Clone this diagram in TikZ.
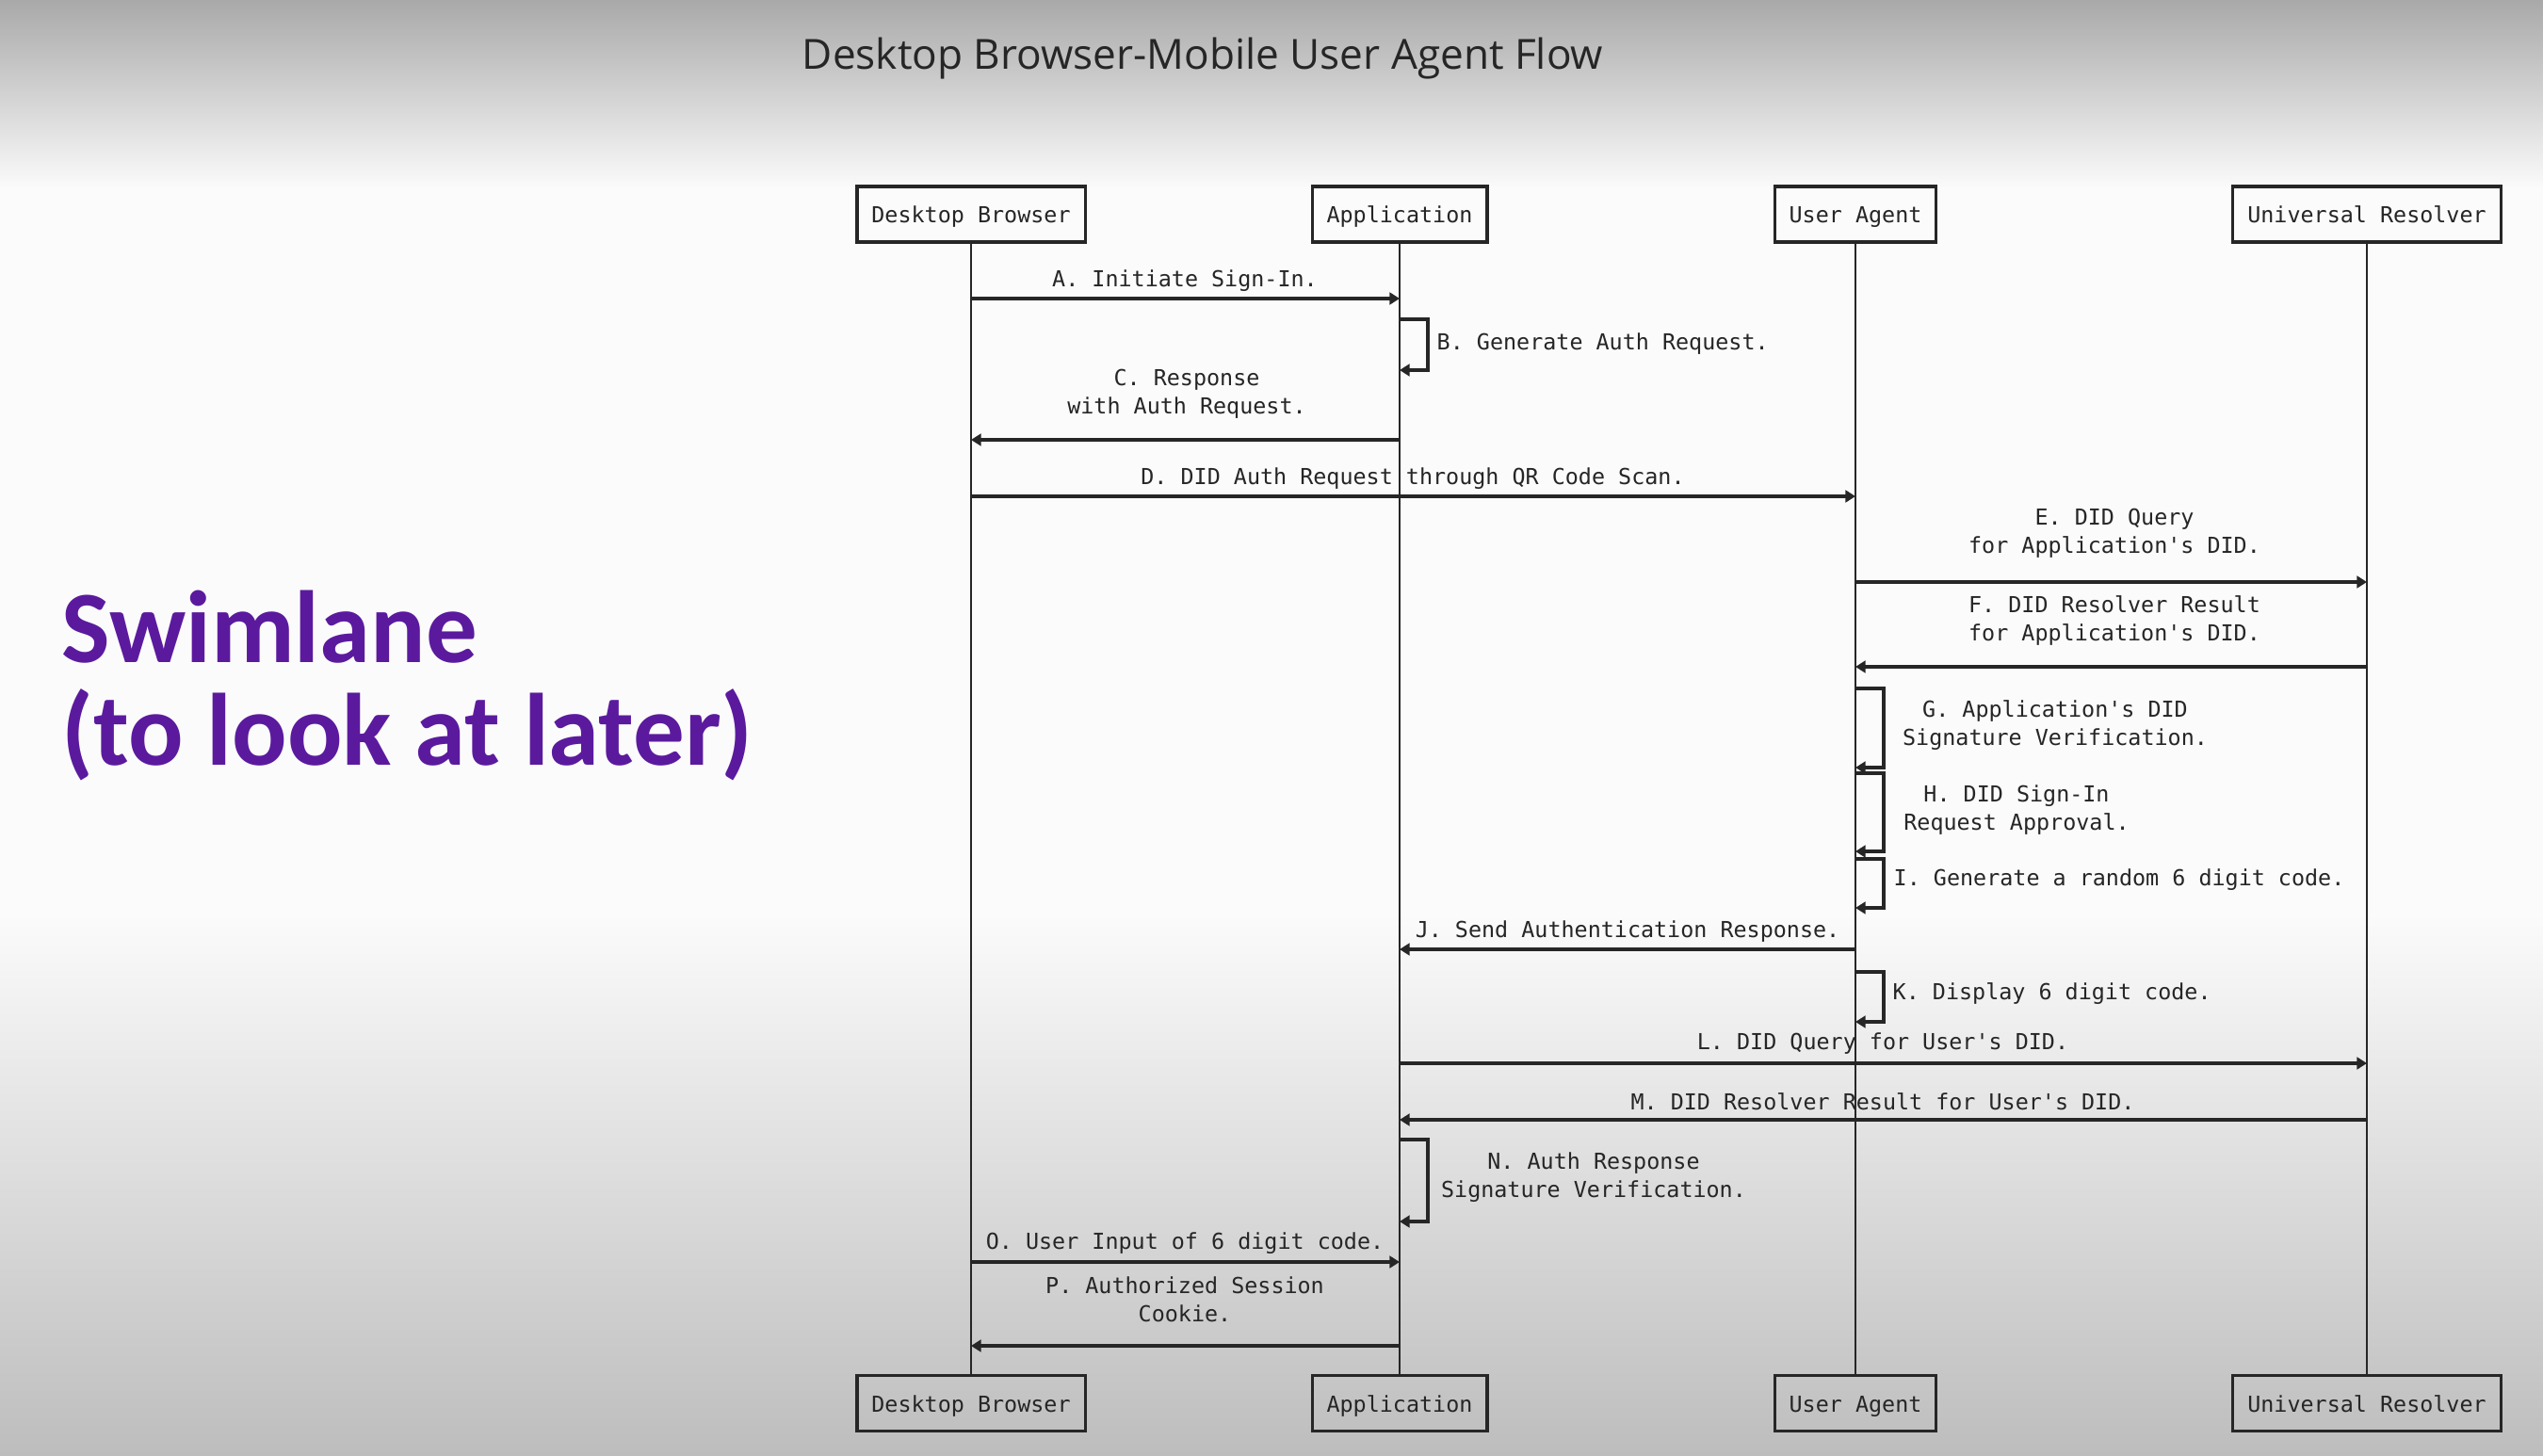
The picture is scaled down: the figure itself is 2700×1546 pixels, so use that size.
\documentclass[tikz,border=0pt]{standalone}
\usepackage{fontspec}
\setmonofont{DejaVu Sans Mono}
\newfontfamily\titlefont{Open Sans}
\newfontfamily\swimfont{Carlito}
\usetikzlibrary{arrows.meta}
\definecolor{swimpurple}{HTML}{5B1A9E}
\definecolor{ink}{HTML}{262626}
\definecolor{topgray}{HTML}{A9A9A9}
\definecolor{botgray}{HTML}{BDBDBD}
\definecolor{paper}{HTML}{FBFBFB}
\tikzset{
  lbl/.style={font=\ttfamily\fontsize{6.65}{8.5}\selectfont, text=ink, align=center, inner sep=0pt},
  actor/.style={draw=ink, line width=0.9pt, font=\ttfamily\fontsize{6.65}{8.5}\selectfont, text=ink,
                minimum height=16.8pt, inner xsep=4.4pt, inner ysep=0pt,
                text height=0.75em, text depth=0.22em},
  life/.style={draw=ink, line width=0.7pt},
  msg/.style={draw=ink, line width=1.1pt, -{Triangle[length=3pt,width=3.6pt]}},
}
\begin{document}
\begin{tikzpicture}[x=0.01cm,y=-0.01cm]
% background
\useasboundingbox (0,0) rectangle (2700,1546);
\fill[paper] (0,0) rectangle (2700,1546);
\shade[top color=topgray, bottom color=paper] (0,0) rectangle (2700,200);
\shade[top color=paper, bottom color=botgray] (0,970) rectangle (2700,1546);

% title and side note
\node[font=\titlefont\fontsize{12.55}{14}\selectfont, text=ink, inner sep=0pt] (title) at (1277,62) {Desktop Browser-Mobile User Agent Flow};
\node[font=\swimfont\bfseries\fontsize{31}{31}\selectfont, text=swimpurple, anchor=base west, inner sep=0pt] (sw1) at (65,703) {Swimlane};
\node[font=\swimfont\bfseries\fontsize{31}{31}\selectfont, text=swimpurple, anchor=base west, inner sep=0pt] (sw2) at (65,812) {(to look at later)};

% actors
\node[actor] (db)  at (1031,227.5) {Desktop Browser};
\node[actor] (app) at (1486,227.5) {Application};
\node[actor] (ua)  at (1970,227.5) {User Agent};
\node[actor] (ur)  at (2513,227.5) {Universal Resolver};
\node[actor] (db2)  at (1031,1490) {Desktop Browser};
\node[actor] (app2) at (1486,1490) {Application};
\node[actor] (ua2)  at (1970,1490) {User Agent};
\node[actor] (ur2)  at (2513,1490) {Universal Resolver};

% lifelines
\draw[life] (db.south) -- (db2.north);
\draw[life] (app.south) -- (app2.north);
\draw[life] (ua.south) -- (ua2.north);
\draw[life] (ur.south) -- (ur2.north);

% A
\draw[msg] (db |- 0,317) -- (app |- 0,317);
\node[lbl] (la) at (1258,298) {A. Initiate Sign-In.};
% B (self)
\draw[msg] (app |- 0,339) -- ++(30,0) -- ++(0,54) -- ++(-30,0);
\node[lbl, anchor=west] (lb) at (1525,365) {B. Generate Auth Request.};
% C
\draw[msg] (app |- 0,467) -- (db |- 0,467);
\node[lbl] (lc) at (1260,418) {C. Response\\with Auth Request.};
% D
\draw[msg] (db |- 0,527) -- (ua |- 0,527);
\node[lbl] (ld) at (1500,508) {D. DID Auth Request through QR Code Scan.};
% E
\draw[msg] (ua |- 0,618) -- (ur |- 0,618);
\node[lbl] (le) at (2245,566) {E. DID Query\\for Application's DID.};
% F
\draw[msg] (ur |- 0,708) -- (ua |- 0,708);
\node[lbl] (lf) at (2245,659) {F. DID Resolver Result\\for Application's DID.};
% G (self)
\draw[msg] (ua |- 0,731) -- ++(30,0) -- ++(0,84) -- ++(-30,0);
\node[lbl] (lg) at (2182,770) {G. Application's DID\\Signature Verification.};
% H (self)
\draw[msg] (ua |- 0,821) -- ++(30,0) -- ++(0,83) -- ++(-30,0);
\node[lbl] (lh) at (2141,860) {H. DID Sign-In\\Request Approval.};
% I (self)
\draw[msg] (ua |- 0,912) -- ++(30,0) -- ++(0,52) -- ++(-30,0);
\node[lbl, anchor=west] (li) at (2010,934) {I. Generate a random 6 digit code.};
% J
\draw[msg] (ua |- 0,1008) -- (app |- 0,1008);
\node[lbl] (lj) at (1728,989) {J. Send Authentication Response.};
% K (self)
\draw[msg] (ua |- 0,1032) -- ++(30,0) -- ++(0,53) -- ++(-30,0);
\node[lbl, anchor=west] (lk) at (2009,1055) {K. Display 6 digit code.};
% L
\draw[msg] (app |- 0,1129) -- (ur |- 0,1129);
\node[lbl] (ll) at (1999,1108) {L. DID Query for User's DID.};
% M
\draw[msg] (ur |- 0,1189) -- (app |- 0,1189);
\node[lbl] (lm) at (1999,1170) {M. DID Resolver Result for User's DID.};
% N (self)
\draw[msg] (app |- 0,1210) -- ++(30,0) -- ++(0,87) -- ++(-30,0);
\node[lbl] (ln) at (1692,1250) {N. Auth Response\\Signature Verification.};
% O
\draw[msg] (db |- 0,1340) -- (app |- 0,1340);
\node[lbl] (lo) at (1258,1320) {O. User Input of 6 digit code.};
% P
\draw[msg] (app |- 0,1429) -- (db |- 0,1429);
\node[lbl] (lp) at (1258,1380) {P. Authorized Session\\Cookie.};
\end{tikzpicture}
\end{document}
